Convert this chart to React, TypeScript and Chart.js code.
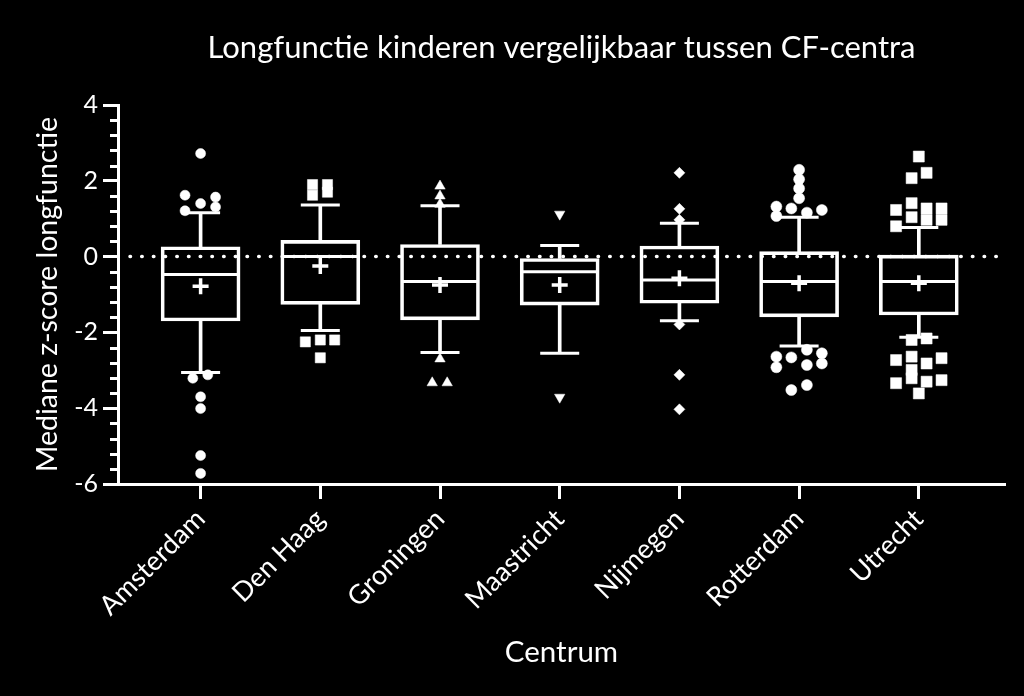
import React, { useEffect, useRef } from 'react';
import { Chart, registerables } from 'chart.js';

Chart.register(...registerables);

const centres = ['Amsterdam', 'Den Haag', 'Groningen', 'Maastricht', 'Nijmegen', 'Rotterdam', 'Utrecht'];
const q1 = [-1.70, -1.26, -1.67, -1.28, -1.23, -1.59, -1.54];
const medians = [-0.47, 0.0, -0.66, -0.40, -0.62, -0.66, -0.66];
const q3 = [0.26, 0.43, 0.32, -0.05, 0.28, 0.13, 0.04];
const whiskerLow = [-3.06, -1.95, -2.53, -2.55, -1.69, -2.36, -2.13];
const whiskerHigh = [1.16, 1.36, 1.34, 0.29, 0.88, 1.04, 0.77];
const means = [-0.78, -0.25, -0.75, -0.75, -0.57, -0.70, -0.70];

const outliers: number[][] = [
  [2.72, 1.62, 1.57, 1.40, 1.31, 1.21, -3.21, -3.12, -3.70, -4.01, -5.25, -5.72],
  [1.90, 1.90, 1.62, 1.70, -2.25, -2.20, -2.20, -2.67],
  [1.86, 1.60, 1.38, -2.70, -3.33, -3.33],
  [1.12, -3.71],
  [2.21, 1.26, 0.97, -1.79, -3.12, -4.03],
  [2.29, 2.04, 1.80, 1.54, 1.32, 1.27, 1.16, 1.23, 1.07, -2.46, -2.64, -2.66, -2.55, -2.82, -2.92, -2.86, -3.52, -3.39],
  [2.64, 2.21, 2.07, 1.41, 1.27, 1.27, 1.04, 0.97, 0.97, 1.23, 0.80, -2.20, -2.16, -2.73, -2.64, -2.82, -2.68, -2.99, -3.34, -3.21, -3.30, -3.26, -3.61],
];
// horizontal spread of the outlier symbols, in category units
const outlierJitter: number[][] = [
  [0, -0.13, 0.125, 0, 0.125, -0.13, -0.065, 0.06, 0, 0, 0, 0],
  [-0.065, 0.06, -0.065, 0.06, -0.125, 0, 0.12, 0],
  [0, 0, 0, 0, -0.065, 0.06],
  [0, 0],
  [0, 0, 0, 0, 0, 0],
  [0, 0, 0, 0, -0.19, -0.065, 0.065, 0.19, -0.19, 0.065, -0.19, -0.065, 0.19, 0.19, -0.19, 0.065, -0.065, 0.065],
  [0, 0.065, -0.06, -0.06, 0.065, 0.19, -0.06, 0.065, 0.19, -0.19, -0.19, -0.06, 0.065, -0.19, -0.06, 0.065, 0.19, -0.06, -0.19, -0.06, 0.065, 0.19, 0],
];

const yTickLabels = ['-6', '-4', '-2', '0', '2', '4'];
const title = 'Longfunctie kinderen vergelijkbaar tussen CF-centra';
const yTitle = 'Mediane z-score longfunctie';
const xTitle = 'Centrum';

const FONT = 'Lato';
const WHITE = '#ffffff';

export default function App() {
  const ref = useRef<HTMLCanvasElement | null>(null);

  useEffect(() => {
    const canvas = ref.current;
    if (!canvas) return;

    const symbolStyles: any[] = [
      { pointStyle: 'circle', radius: 5, rotation: 0 },
      { pointStyle: 'rect', radius: 7.2, rotation: 0 },
      { pointStyle: 'triangle', radius: 6, rotation: 0 },
      { pointStyle: 'triangle', radius: 6, rotation: 180 },
      { pointStyle: 'rectRot', radius: 5.5, rotation: 0 },
      { pointStyle: 'circle', radius: 5.5, rotation: 0 },
      { pointStyle: 'rect', radius: 7.8, rotation: 0 },
    ];

    const outlierSets = outliers.map((vals, i) => ({
      type: 'scatter' as const,
      label: centres[i],
      data: vals.map((v, k) => ({ x: i + outlierJitter[i][k], y: v })),
      pointStyle: symbolStyles[i].pointStyle,
      pointRadius: symbolStyles[i].radius,
      pointRotation: symbolStyles[i].rotation,
      backgroundColor: WHITE,
      borderColor: WHITE,
      borderWidth: 0.5,
      order: 1,
    }));

    const bgPlugin = {
      id: 'bg',
      beforeDraw(chart: any) {
        const { ctx, width, height } = chart;
        ctx.save();
        ctx.fillStyle = '#000';
        ctx.fillRect(0, 0, width, height);
        ctx.restore();
      },
    };

    const zeroLinePlugin = {
      id: 'zeroLine',
      beforeDatasetsDraw(chart: any) {
        const { ctx, chartArea } = chart;
        const y = chart.scales.y.getPixelForValue(0);
        ctx.save();
        ctx.strokeStyle = WHITE;
        ctx.lineWidth = 3.5;
        ctx.lineCap = 'round';
        ctx.setLineDash([0.5, 11.2]);
        ctx.beginPath();
        ctx.moveTo(chartArea.left + 12, y);
        ctx.lineTo(chartArea.right - 4, y);
        ctx.stroke();
        ctx.restore();
      },
    };

    const minorTickPlugin = {
      id: 'minorTicks',
      afterDraw(chart: any) {
        const { ctx, chartArea } = chart;
        const ys = chart.scales.y;
        ctx.save();
        ctx.strokeStyle = WHITE;
        ctx.lineWidth = 3;
        for (let k = 0; k <= 25; k++) {
          const v = ys.min + k * 0.4;
          if (k % 5 === 0) continue;
          const py = Math.round(ys.getPixelForValue(v)) + 0.5;
          ctx.beginPath();
          ctx.moveTo(chartArea.left - 8, py);
          ctx.lineTo(chartArea.left, py);
          ctx.stroke();
        }
        // x axis line continues a little to the left of the y axis
        const by = chart.scales.x.top;
        ctx.beginPath();
        ctx.moveTo(chartArea.left - 7, by + 0.5);
        ctx.lineTo(chartArea.left, by + 0.5);
        ctx.stroke();
        ctx.restore();
      },
    };

    const chart = new Chart(canvas, {
      type: 'bar',
      data: {
        datasets: [
          {
            type: 'bar',
            label: 'box',
            data: centres.map((_, i) => ({ x: i, y: [q1[i], q3[i]] })) as any,
            backgroundColor: 'rgba(0,0,0,0)',
            borderColor: WHITE,
            borderWidth: 3,
            borderSkipped: false,
            barThickness: 79,
            grouped: false,
            order: 5,
          },
          {
            type: 'bar',
            label: 'upper whisker',
            data: centres.map((_, i) => ({ x: i, y: [q3[i], whiskerHigh[i]] })) as any,
            backgroundColor: WHITE,
            borderWidth: 0,
            barThickness: 3,
            grouped: false,
            order: 6,
          },
          {
            type: 'bar',
            label: 'lower whisker',
            data: centres.map((_, i) => ({ x: i, y: [whiskerLow[i], q1[i]] })) as any,
            backgroundColor: WHITE,
            borderWidth: 0,
            barThickness: 3,
            grouped: false,
            order: 6,
          },
          {
            type: 'scatter',
            label: 'caps',
            data: [
              ...centres.map((_, i) => ({ x: i, y: whiskerHigh[i] })),
              ...centres.map((_, i) => ({ x: i, y: whiskerLow[i] })),
            ],
            pointStyle: 'line',
            pointRadius: 19.5,
            borderColor: WHITE,
            borderWidth: 3,
            order: 4,
          },
          {
            type: 'scatter',
            label: 'median',
            data: centres.map((_, i) => ({ x: i, y: medians[i] })),
            pointStyle: 'line',
            pointRadius: 38,
            borderColor: WHITE,
            borderWidth: 3,
            order: 4,
          },
          {
            type: 'scatter',
            label: 'mean',
            data: centres.map((_, i) => ({ x: i, y: means[i] })),
            pointStyle: 'cross',
            pointRadius: 8,
            borderColor: WHITE,
            borderWidth: 3.5,
            order: 3,
          },
          ...outlierSets,
        ] as any,
      },
      options: {
        animation: false,
        responsive: false,
        devicePixelRatio: 1,
        layout: { autoPadding: false, padding: { left: 0, right: 19, top: 0, bottom: 0 } },
        plugins: {
          legend: { display: false },
          tooltip: { enabled: false },
          title: {
            display: true,
            text: title,
            color: WHITE,
            fullSize: false,
            font: { family: FONT, size: 31, weight: 'normal' },
            padding: { top: 29.4, bottom: 38.4 },
          },
        },
        scales: {
          x: {
            type: 'linear',
            min: -0.69,
            max: 6.72,
            offset: false,
            afterBuildTicks(scale: any) {
              scale.ticks = centres.map((_, i) => ({ value: i }));
            },
            afterFit(scale: any) {
              scale.height = 212;
              scale.paddingRight = 0;
              scale.paddingLeft = 0;
            },
            ticks: {
              color: WHITE,
              font: { family: FONT, size: 27 },
              minRotation: 45,
              maxRotation: 45,
              padding: 4,
              callback: (v: any) => centres[Math.round(Number(v))] ?? '',
            },
            grid: {
              offset: false,
              drawOnChartArea: false,
              drawTicks: true,
              tickLength: 15,
              tickWidth: 3,
              tickColor: WHITE,
              color: WHITE,
            },
            border: { display: true, color: WHITE, width: 3 },
            title: {
              display: true,
              text: xTitle,
              color: WHITE,
              font: { family: FONT, size: 29.5 },
              padding: { top: 0, bottom: 25.8 },
            },
          },
          y: {
            type: 'linear',
            min: -6,
            max: 4,
            afterBuildTicks(scale: any) {
              scale.ticks = yTickLabels.map((t) => ({ value: Number(t) }));
            },
            afterFit(scale: any) {
              scale.width = 118;
            },
            ticks: {
              color: WHITE,
              font: { family: FONT, size: 25 },
              padding: 5,
              callback: (v: any) => String(v),
            },
            grid: {
              drawOnChartArea: false,
              drawTicks: true,
              tickLength: 15,
              tickWidth: 3,
              tickColor: WHITE,
              color: WHITE,
            },
            border: { display: true, color: WHITE, width: 3 },
            title: {
              display: true,
              text: yTitle,
              color: WHITE,
              font: { family: FONT, size: 28.5 },
              padding: { top: 30.7, bottom: 0 },
            },
          },
        },
      } as any,
      plugins: [bgPlugin, zeroLinePlugin, minorTickPlugin],
    });

    return () => chart.destroy();
  }, []);

  return (
    <div style={{ position: 'fixed', left: 0, top: 0, width: 1024, height: 696, background: '#000' }}>
      <canvas ref={ref} width={1024} height={696} style={{ display: 'block' }} />
    </div>
  );
}
